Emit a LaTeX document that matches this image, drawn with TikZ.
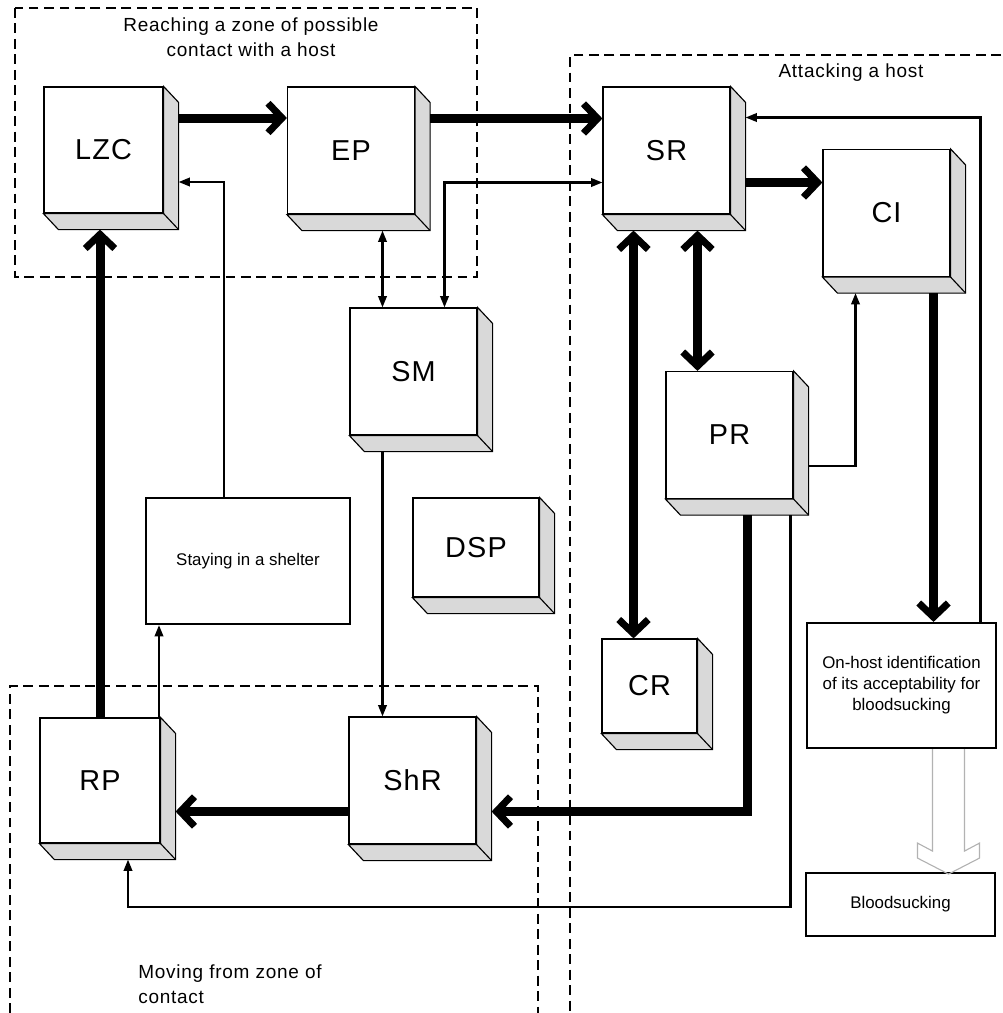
\documentclass[tikz,border=0pt]{standalone}
\usepackage{fontspec}
\setmainfont{Liberation Sans}
\newfontfamily\boxfont[LetterSpace=4]{Liberation Sans}
\newfontfamily\capfont[LetterSpace=4]{Liberation Sans}
\usetikzlibrary{arrows.meta}

\begin{document}
\begin{tikzpicture}[
    x=0.025cm, y=-0.025cm,
    fatbarb/.tip={Straight Barb[length=10pt, width=21pt, line width=5pt]},
    smalltri/.tip={Triangle[length=8pt, width=6pt]},
    every node/.style={inner sep=0},
    cube/.style={rectangle, draw=black, fill=white, line width=0.8pt,
        minimum width=3.175cm, minimum height=3.175cm,
        font={\boxfont\fontsize{20.5}{24}\selectfont}},
    face/.style={fill=gray!30, draw=black, line width=0.8pt},
    plain/.style={rectangle, draw=black, line width=1.5pt, align=center,
        font={\fontsize{12}{15}\selectfont}},
    caption/.style={font={\capfont\fontsize{13.5}{17.7}\selectfont}},
    zone/.style={draw=black, line width=0.9pt, dash pattern=on 7pt off 4pt},
    heavy/.style={line width=6.4pt, -{fatbarb}},
    heavyboth/.style={line width=6.4pt, {fatbarb}-{fatbarb}},
    light/.style={line width=1.5pt, -{smalltri}},
    lightboth/.style={line width=1.5pt, {smalltri}-{smalltri}},
    hollow/.style={draw=gray!60, line width=0.8pt},
    ]
    \useasboundingbox (0,0) rectangle (1003,1013);

    % zones
    \draw [zone] (15,8) rectangle (477,277);
    \draw [zone] (1001,55) -- (570,55) -- (570,1013);
    \draw [zone] (10,1013) -- (10,686) -- (538,686) -- (538,1013);
    \node (reach) [caption, align=center] at (251,37) {Reaching a zone of possible\\contact with a host};
    \node (attack) [caption] at (851,73) {Attacking a host};
    \node (moving) [caption, align=left, anchor=west] at (138,984) {Moving from zone of\\contact};

    % blocks
    \node (LZC) [cube, minimum width=2.975cm, minimum height=3.15cm] at (103.5,150) {LZC};
    \node (EP) [cube] at (351,150.5) {EP};
    \node (SR) [cube] at (666.5,150.5) {SR};
    \node (CI) [cube] at (886.5,213) {CI};
    \node (SM) [cube] at (413.5,371.5) {SM};
    \node (PR) [cube] at (729.5,435) {PR};
    \node (DSP) [cube, minimum width=3.15cm, minimum height=2.475cm] at (476,547.5) {DSP};
    \node (CR) [cube, minimum width=2.375cm, minimum height=2.35cm] at (649.5,686) {CR};
    \node (RP) [cube, minimum width=3cm, minimum height=3.125cm] at (100,780.5) {RP};
    \node (ShR) [cube] at (412.5,780.5) {ShR};
    \node (shelter) [plain, minimum width=5.1cm, minimum height=3.15cm] at (248,561) {Staying in a shelter};
    \node (onhost) [plain, minimum width=4.725cm, minimum height=3.125cm] at (901.5,685.5) {On-host identification\\of its acceptability for\\bloodsucking};
    \node (blood) [plain, minimum width=4.725cm, minimum height=1.575cm] at (900.5,904.5) {Bloodsucking};

    \foreach \n in {LZC, EP, SR, CI, SM, PR, DSP, CR, RP, ShR} {
        \coordinate (\n-e) at ([shift={(15,0)}]\n.east);
        \coordinate (\n-s) at ([shift={(0,16)}]\n.south);
        \draw [face] (\n.north east) -- ++(15,16) -- ([shift={(15,16)}]\n.south east)
            -- ([shift={(15,16)}]\n.south west) -- (\n.south west) -- (\n.south east) -- cycle;
        \draw [line width=0.8pt] (\n.south east) -- ++(15,16);
    }

    % links
    \draw [heavy] ([shift={(15,-32)}]LZC.east) coordinate (p) -- (p -| EP.west);
    \draw [heavy] ([shift={(15,-32)}]EP.east) coordinate (p) -- (p -| SR.west);
    \draw [heavy] ([shift={(15,32)}]SR.east) coordinate (p) -- (p -| CI.west);
    \draw [light] ([shift={(-24,0)}]shelter.north) |- ([shift={(15,32)}]LZC.east);
    \draw [lightboth] ([shift={(31,0)}]SM.north) |- ([shift={(0,32)}]SR.west);
    \draw [lightboth] ([shift={(-31,0)}]SM.north) coordinate (p) -- (p |- EP-s);
    \draw [heavyboth] ([shift={(-16,0)}]CR.north) coordinate (p) -- (p |- SR-s);
    \draw [heavyboth] ([shift={(-32,0)}]PR.north) coordinate (p) -- (p |- SR-s);
    \draw [light] ([shift={(15,31)}]PR.east) -| ([shift={(-31,0)}]CI-s);
    \draw [heavy] ([shift={(47,0)}]CI-s) coordinate (p) -- (p |- onhost.north);
    \draw [light] ([shift={(79,0)}]onhost.north) |- ([shift={(15,-33)}]SR.east);
    \draw [heavy] ([shift={(18,0)}]PR-s) |- ([shift={(15,31)}]ShR.east);
    \draw [light] ([shift={(61,0)}]PR-s) |- ([shift={(28,47)}]RP-s) -- ([shift={(28,0)}]RP-s);
    \draw [heavy] ([shift={(0,31)}]ShR.west) coordinate (p) -- (p -| RP-e);
    \draw [light] ([shift={(-31,0)}]SM-s) coordinate (p) -- (p |- ShR.north);
    \draw [heavy] (RP.north) -- (RP.north |- LZC-s);
    \draw [light] ([shift={(59,0)}]RP.north) coordinate (p) -- (p |- shelter.south);
    \draw [hollow] ([shift={(31,0)}]onhost.south) -- ++(0,102) -- ++(-15,-8) -- ++(0,15)
        -- ++(31,16) -- ++(31,-16) -- ++(0,-15) -- ++(-15,8) -- ++(0,-102);
\end{tikzpicture}
\end{document}
